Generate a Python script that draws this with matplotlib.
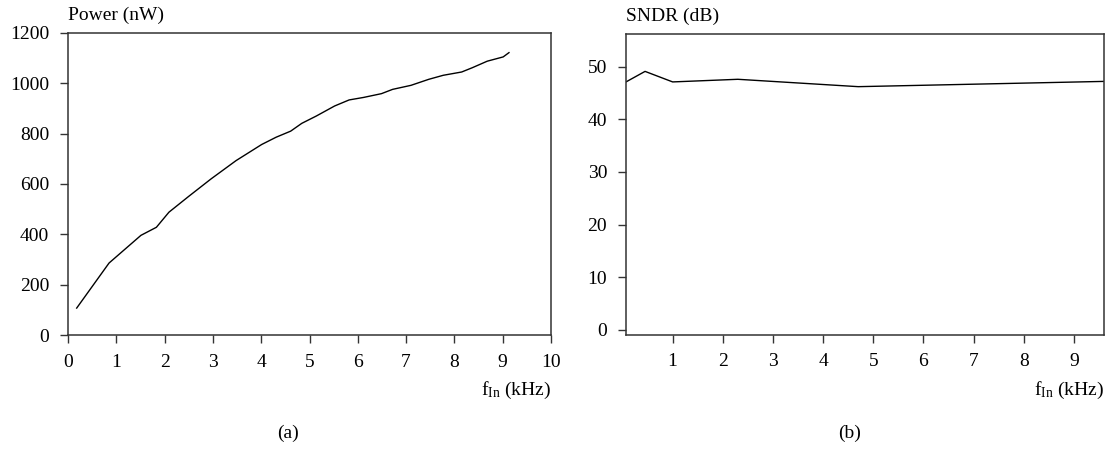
import matplotlib
matplotlib.use('Agg')

import matplotlib.pyplot as plt

plt.rcParams['font.family'] = ['Liberation Serif', 'DejaVu Serif']
plt.rcParams['mathtext.fontset'] = 'custom'
plt.rcParams['mathtext.rm'] = 'Liberation Serif'
plt.rcParams['mathtext.it'] = 'Liberation Serif:italic'

# (a) power vs input frequency
power_f = [0.18, 0.85, 1.51, 1.83, 2.09, 2.5, 2.96, 3.48, 4.01, 4.31, 4.61, 4.84,
           5.14, 5.52, 5.82, 6.12, 6.49, 6.72, 7.10, 7.47, 7.77, 8.15, 8.37, 8.68,
           9.01, 9.13]
power_nw = [107, 286, 396, 428, 488, 551, 620, 693, 757, 786, 810, 841,
            870, 910, 934, 944, 959, 976, 992, 1016, 1032, 1045, 1062, 1088,
            1105, 1122]

# (b) SNDR vs input frequency
sndr_f = [0.07, 0.45, 1.0, 2.3, 4.7, 9.6]
sndr_db = [47.1, 49.1, 47.1, 47.6, 46.2, 47.2]

W, H = 1114, 449
fs = 14
fig = plt.figure(figsize=(W / 100, H / 100), dpi=100)

ax1 = fig.add_axes([68 / W, (H - 335) / H, 483 / W, 302 / H])
ax2 = fig.add_axes([626 / W, (H - 334.7) / H, 478 / W, 300.7 / H])

ax1.plot(power_f, power_nw, color='black', lw=1.0)
ax1.set_xlim(0, 10)
ax1.set_ylim(0, 1200)
ax1.set_xticks(range(0, 11))
ax1.set_yticks(range(0, 1201, 200))

ax2.plot(sndr_f, sndr_db, color='black', lw=1.0)
ax2.set_xlim(0.07, 9.6)
ax2.set_ylim(-0.9, 56.2)
ax2.set_xticks(range(1, 10))
ax2.set_yticks(range(0, 51, 10))

for ax, ylab in [(ax1, 'Power (nW)'), (ax2, 'SNDR (dB)')]:
    for s in ax.spines.values():
        s.set_linewidth(1.1)
        s.set_color('#333333')
    ax.tick_params(direction='out', length=6, width=1.0, color='#333333',
                   labelsize=fs, pad=7.5, top=False, right=False)
    ax.text(0, 1.03, ylab, transform=ax.transAxes, ha='left', va='bottom',
            fontsize=fs)
    ax.text(1, -0.185, r'f$_{\mathrm{In}}$ (kHz)', transform=ax.transAxes,
            ha='right', va='center', fontsize=fs)

# panel tags
fig.text(288 / W, 1 - 433 / H, '(a)', ha='center', va='center', fontsize=fs)
fig.text(850 / W, 1 - 433 / H, '(b)', ha='center', va='center', fontsize=fs)

fig.savefig('out.png', dpi=100)
